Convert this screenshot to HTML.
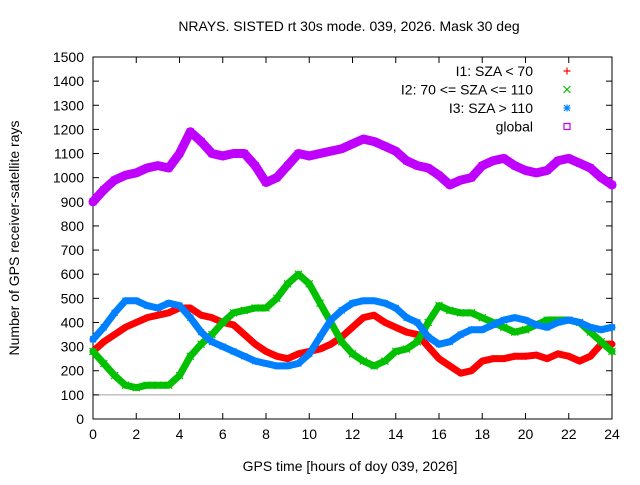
<!DOCTYPE html>
<html><head><meta charset="utf-8"><style>
body{margin:0;background:#fff;}
svg text{font-family:"Liberation Sans",sans-serif;font-size:14px;fill:#000;}
</style></head><body>
<svg id="chart" width="640" height="480">
<text x="349" y="31" text-anchor="middle">NRAYS. SISTED rt 30s mode. 039, 2026. Mask 30 deg</text>
<g id="axes"></g>
<g id="series"></g>
<g id="legend"></g>
<text x="350" y="471" text-anchor="middle">GPS time [hours of doy 039, 2026]</text>
<text transform="translate(19,238) rotate(-90)" text-anchor="middle">Number of GPS receiver-satellite rays</text>
</svg>
<script>
const hours=[0,0.5,1,1.5,2,2.5,3,3.5,4,4.5,5,5.5,6,6.5,7,7.5,8,8.5,9,9.5,10,10.5,11,11.5,12,12.5,13,13.5,14,14.5,15,15.5,16,16.5,17,17.5,18,18.5,19,19.5,20,20.5,21,21.5,22,22.5,23,23.5,24];
const globalVals=[900,950,990,1010,1020,1040,1050,1040,1100,1190,1150,1100,1090,1100,1100,1050,980,1000,1050,1100,1090,1100,1110,1120,1140,1160,1150,1130,1110,1070,1050,1040,1010,970,990,1000,1050,1070,1080,1050,1030,1020,1030,1070,1080,1060,1040,1000,970];
const redVals=[280,320,350,380,400,420,430,440,460,460,430,420,400,390,350,310,280,260,250,270,280,290,310,340,380,420,430,400,380,360,350,300,250,220,190,200,240,250,250,260,260,265,250,270,260,240,260,310,310];
const greenVals=[280,230,180,140,130,140,140,140,180,260,310,350,400,440,450,460,460,500,560,600,560,480,400,320,270,240,220,240,280,290,320,400,470,450,440,440,420,400,380,360,370,390,410,410,410,400,360,320,280];
const blueVals=[330,380,440,490,490,470,460,480,470,420,360,320,300,280,260,240,230,220,220,230,270,340,410,450,480,490,490,480,460,420,400,340,310,320,350,370,370,390,410,420,410,390,380,400,410,400,380,370,380];
const xTicks=[0,2,4,6,8,10,12,14,16,18,20,22,24];
const yTicks=[0,100,200,300,400,500,600,700,800,900,1000,1100,1200,1300,1400,1500];
const legendLabels=["I1: SZA < 70","I2: 70 <= SZA <= 110","I3: SZA > 110","global"];

const X0=93,X1=612,Y0=419,Y1=57;
const sx=v=>X0+(v/24)*(X1-X0);
const sy=v=>Y0-(v/1500)*(Y0-Y1);
const NS="http://www.w3.org/2000/svg";
function mk(tag,attrs,parent){const e=document.createElementNS(NS,tag);for(const k in attrs)e.setAttribute(k,attrs[k]);parent.appendChild(e);return e;}
const axes=document.getElementById('axes'),series=document.getElementById('series'),legend=document.getElementById('legend');
const g100=mk('line',{x1:X0,x2:X1,y1:sy(100),y2:sy(100),stroke:'#a0a0a0','stroke-width':1},axes);


const frame=mk('rect',{x:X0,y:Y1,width:X1-X0,height:Y0-Y1,fill:'none',stroke:'#000','stroke-width':1},axes);


xTicks.forEach(t=>{const x=sx(t);
 mk('line',{x1:x,x2:x,y1:Y0,y2:Y0-6,stroke:'#000'},axes);mk('line',{x1:x,x2:x,y1:Y1,y2:Y1+6,stroke:'#000'},axes);
 const tx=mk('text',{x:x,y:Y0+20,'text-anchor':'middle'},axes);tx.textContent=t;
 
 });
yTicks.forEach(t=>{const y=sy(t);
 mk('line',{x1:X0,x2:X0+6,y1:y,y2:y,stroke:'#000'},axes);mk('line',{x1:X1,x2:X1-6,y1:y,y2:y,stroke:'#000'},axes);
 const tx=mk('text',{x:X0-9,y:y+5,'text-anchor':'end'},axes);tx.textContent=t;
 
 });
function marker(type,x,y,c,p){
 if(type==='plus'){mk('path',{d:`M${x-3.5} ${y}h7M${x} ${y-3.5}v7`,stroke:c,'stroke-width':1.2,fill:'none'},p);}
 else if(type==='x'){mk('path',{d:`M${x-3.5} ${y-3.5}l7 7M${x-3.5} ${y+3.5}l7 -7`,stroke:c,'stroke-width':1.2,fill:'none'},p);}
 else if(type==='star'){mk('path',{d:`M${x-3.5} ${y}h7M${x} ${y-3.5}v7M${x-3} ${y-3}l6 6M${x-3} ${y+3}l6 -6`,stroke:c,'stroke-width':1.2,fill:'none'},p);}
 else {mk('rect',{x:x-3,y:y-3,width:6,height:6,stroke:c,'stroke-width':1.2,fill:'none'},p);}
}
const defs=[[redVals,'#ff0000','plus','series-i1'],[greenVals,'#00c000','x','series-i2'],[blueVals,'#0080ff','star','series-i3'],[globalVals,'#c000ff','square','series-global']];
defs.forEach(([vals,c,type,name])=>{
 const g=mk('g',{},series);
 
 
 const pts=hours.map((h,i)=>sx(h)+','+sy(vals[i])).join(' ');
 mk('polyline',{points:pts,fill:'none',stroke:c,'stroke-width':type==='square'?9:7,'stroke-linejoin':'round','stroke-linecap':'round'},g);
 hours.forEach((h,i)=>marker(type,sx(h),sy(vals[i]),c,g));
});
legendLabels.forEach((l,i)=>{const y=76+i*18.5;
 const g=mk('g',{},legend);
 
 
 const t=mk('text',{x:533,y:y,'text-anchor':'end'},g);t.textContent=l;
 marker(defs[i][2],567,y-5,defs[i][1],g);});
</script>
</body></html>
